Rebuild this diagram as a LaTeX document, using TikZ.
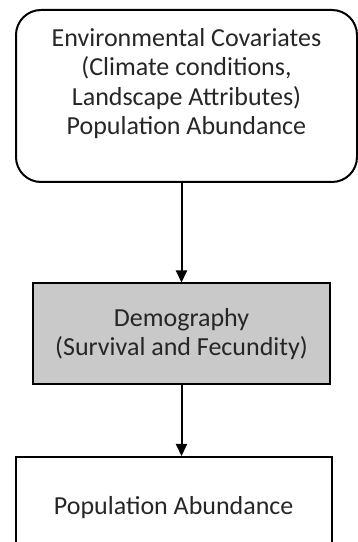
\documentclass[tikz,border=0pt]{standalone}
\usepackage{fontspec}
\setmainfont{Carlito}
\usepackage{tikz}
\usetikzlibrary{arrows.meta}
\usetikzlibrary{calc}
\definecolor{boxgray}{RGB}{201,201,201}
\definecolor{textgray}{RGB}{38,38,38}
\tikzset{flow box/.style={draw=black,rectangle,line width=2pt,align=center,text=textgray,inner sep=0,font=\ds},
         flow arrow/.style={draw=black,line width=2pt,-{Triangle[width=11pt,length=12pt]}}}
\def\ds{\fontsize{26}{29.3}\selectfont}

\begin{document}
\begin{tikzpicture}[x=1pt,y=1pt]

            \useasboundingbox (0, 0) rectangle (358, 542);

            \node[flow box, rounded corners=25, minimum width=341, minimum height=172] (env) at (186.5, 446)
              {Environmental Covariates\\ (Climate conditions,\\ Landscape Attributes)\\ Population Abundance\\ \mbox{}};

            \node[flow box, fill=boxgray, minimum width=297, minimum height=101] (demo) at (181.5, 208)
              {Demography\\ (Survival and Fecundity)};

            \node[flow box, minimum width=315.5, minimum height=102] (pop) at (173.75, 34)
              {Population Abundance};

            \draw[flow arrow] (env.south -| demo.north) -- (demo.north);
            \draw[flow arrow] (demo.south) -- (demo.south |- pop.north);

          \end{tikzpicture}
\end{document}
